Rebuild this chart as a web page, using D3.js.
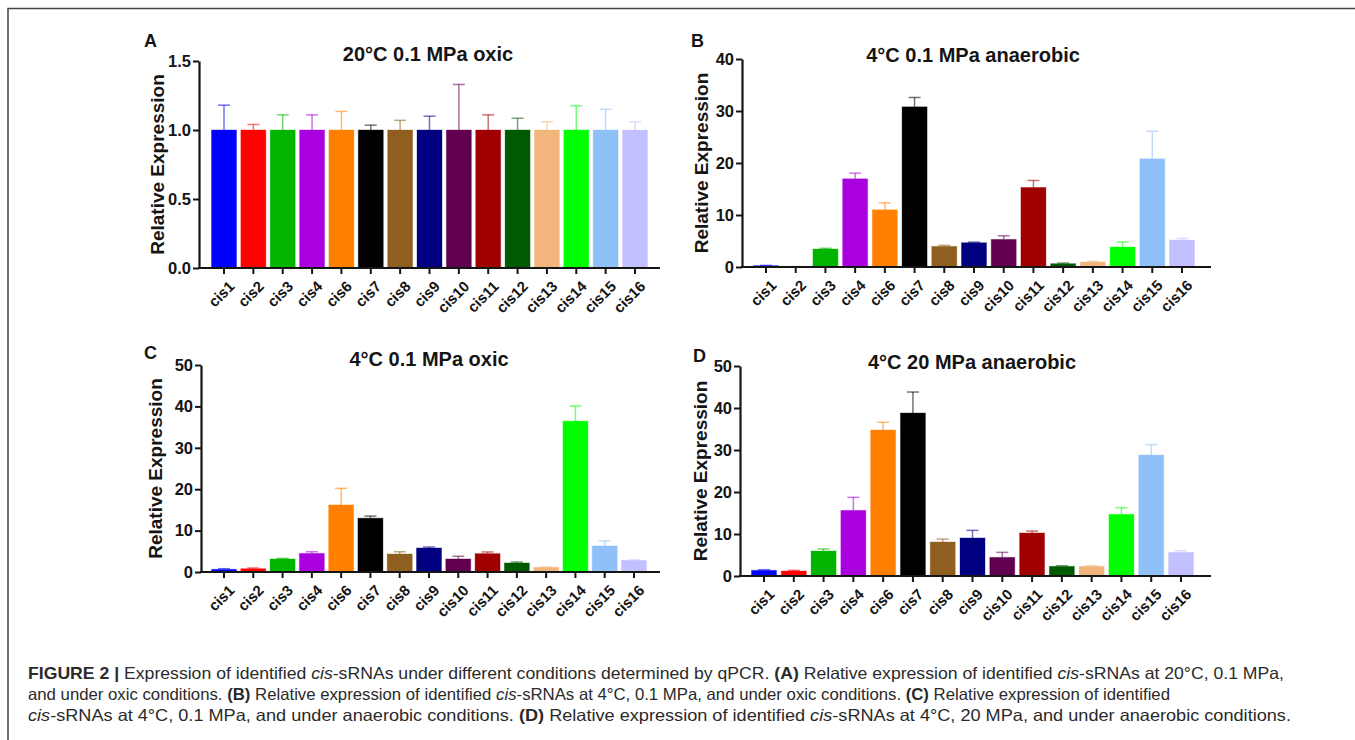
<!DOCTYPE html>
<html>
<head>
<meta charset="utf-8">
<script src="https://cdn.jsdelivr.net/npm/d3@7"></script>
<style>
  body { margin: 0; background: #fff; }
  svg { display: block; }
</style>
</head>
<body>
<svg id="svg" width="1355" height="740"></svg>
<script>
// categories + colours
var genes = ["cis1","cis2","cis3","cis4","cis6","cis7","cis8","cis9","cis10","cis11","cis12","cis13","cis14","cis15","cis16"];
var colors = ["#0000ff","#ff0000","#00b400","#aa00e0","#ff8000","#000000","#8f5f1f","#000080",
              "#60004f","#a00000","#005a00","#f2b67d","#00ff00","#8fc0f7","#c2c0ff"];

// panel A : 20°C 0.1 MPa oxic
var oxic20 = [1,1,1,1,1,1,1,1,1,1,1,1,1,1,1];
var oxic20Err = [0.18,0.04,0.11,0.11,0.135,0.035,0.07,0.10,0.33,0.11,0.085,0.06,0.175,0.15,0.06];
// panel B : 4°C 0.1 MPa anaerobic
var anaer4 = [0.26,0.05,3.46,16.96,11.0,30.8,3.97,4.67,5.31,15.3,0.64,0.96,3.84,20.8,5.18];
var anaer4Err = [0.05,0.02,0.14,1.09,1.35,1.8,0.19,0.13,0.69,1.34,0.13,0.13,0.96,5.3,0.32];
// panel C : 4°C 0.1 MPa oxic
var oxic4 = [0.65,0.8,3.15,4.5,16.2,13.0,4.35,5.8,3.15,4.44,2.18,1.13,36.45,6.3,2.82];
var oxic4Err = [0.15,0.17,0.15,0.4,4.0,0.5,0.55,0.25,0.65,0.4,0.24,0.07,3.65,1.2,0.08];
// panel D : 4°C 20 MPa anaerobic
var anaer20 = [1.35,1.19,5.95,15.63,34.76,38.8,8.1,9.05,4.44,10.24,2.3,2.3,14.68,28.8,5.63];
var anaer20Err = [0.15,0.16,0.48,3.1,1.84,5.0,0.7,1.82,1.19,0.46,0.16,0.16,1.59,2.47,0.4];

var svg = d3.select("#svg");
var textColor = "#151515";
var fontFam = "'Liberation Sans', Arial, sans-serif";

// frame
svg.append("path")
    .attr("d", "M8,740 L8,8.5 L1355,8.5")
    .attr("fill", "none")
    .attr("stroke", "#444")
    .attr("stroke-width", 1.5);

var panels = [
  { letter: "A", title: "20°C 0.1 MPa oxic", vals: oxic20, errs: oxic20Err, max: 1.5, ticks: [0,0.5,1,1.5], fmt: ".1f",
    x0: 199, x1: 660, first: 224, last: 635, top: 61, bottom: 268, lx: 144, ly: 47, tx: 428, ty: 61, ax: 157 },
  { letter: "B", title: "4°C 0.1 MPa anaerobic", vals: anaer4, errs: anaer4Err, max: 40, ticks: [0,10,20,30,40], fmt: "d",
    x0: 742, x1: 1211, first: 766, last: 1182, top: 59, bottom: 267, lx: 691, ly: 47, tx: 973, ty: 62, ax: 701 },
  { letter: "C", title: "4°C 0.1 MPa oxic", vals: oxic4, errs: oxic4Err, max: 50, ticks: [0,10,20,30,40,50], fmt: "d",
    x0: 201, x1: 660, first: 224, last: 634, top: 365, bottom: 572, lx: 144, ly: 359, tx: 429, ty: 366, ax: 155 },
  { letter: "D", title: "4°C 20 MPa anaerobic", vals: anaer20, errs: anaer20Err, max: 50, ticks: [0,10,20,30,40,50], fmt: "d",
    x0: 740, x1: 1211, first: 764, last: 1181, top: 366, bottom: 576, lx: 693, ly: 362, tx: 972, ty: 369, ax: 700 }
];

panels.forEach(function(p) {
  var g = svg.append("g");
  var x = d3.scalePoint().domain(genes).range([p.first, p.last]);
  var y = d3.scaleLinear().domain([0, p.max]).range([p.bottom, p.top]);
  var bw = 25;

  // error bars (drawn first so bars sit on top)
  var eb = g.selectAll(".err").data(genes).enter().append("g")
      .attr("stroke", function(d, i) { return colors[i]; })
      .attr("stroke-opacity", 0.55)
      .attr("stroke-width", 1.5);
  eb.append("line")
      .attr("x1", function(d) { return x(d); })
      .attr("x2", function(d) { return x(d); })
      .attr("y1", function(d, i) { return y(p.vals[i]); })
      .attr("y2", function(d, i) { return y(p.vals[i] + p.errs[i]); });
  eb.append("line")
      .attr("x1", function(d) { return x(d) - 6; })
      .attr("x2", function(d) { return x(d) + 6; })
      .attr("y1", function(d, i) { return y(p.vals[i] + p.errs[i]); })
      .attr("y2", function(d, i) { return y(p.vals[i] + p.errs[i]); });

  // bars
  g.selectAll(".bar").data(genes).enter().append("rect")
      .attr("x", function(d) { return x(d) - bw / 2; })
      .attr("width", bw)
      .attr("y", function(d, i) { return y(p.vals[i]); })
      .attr("height", function(d, i) { return p.bottom - y(p.vals[i]); })
      .attr("fill", function(d, i) { return colors[i]; })
      .attr("stroke", function(d, i) { return colors[i]; })
      .attr("stroke-opacity", 0.35)
      .attr("stroke-width", 1);

  // y axis
  var ya = g.append("g")
      .attr("transform", "translate(" + p.x0 + ",0)")
      .call(d3.axisLeft(y).tickValues(p.ticks).tickFormat(d3.format(p.fmt)).tickSize(6).tickSizeOuter(0));
  ya.select(".domain").attr("stroke", textColor).attr("stroke-width", 2.2);
  ya.selectAll(".tick line").attr("stroke", textColor).attr("stroke-width", 2);
  ya.selectAll(".tick text")
      .attr("x", -8)
      .attr("fill", textColor)
      .style("font", "bold 16.5px " + fontFam);

  // x axis
  g.append("line")
      .attr("x1", p.x0 - 1).attr("x2", p.x1)
      .attr("y1", p.bottom).attr("y2", p.bottom)
      .attr("stroke", textColor).attr("stroke-width", 2.2);
  g.selectAll(".xt").data(genes).enter().append("line")
      .attr("x1", function(d) { return x(d); })
      .attr("x2", function(d) { return x(d); })
      .attr("y1", p.bottom)
      .attr("y2", p.bottom + 6)
      .attr("stroke", textColor).attr("stroke-width", 2);
  g.selectAll(".xl").data(genes).enter().append("text")
      .attr("transform", function(d) { return "translate(" + (x(d) + 4) + "," + (p.bottom + 12) + ") rotate(-45)"; })
      .attr("text-anchor", "end")
      .attr("dy", "0.7em")
      .attr("fill", textColor)
      .style("font", "bold 15px " + fontFam)
      .text(function(d) { return d; });

  // y title
  g.append("text")
      .attr("transform", "translate(" + (p.ax + 7) + "," + ((p.top + p.bottom) / 2) + ") rotate(-90)")
      .attr("text-anchor", "middle")
      .attr("fill", textColor)
      .style("font", "bold 19px " + fontFam)
      .text("Relative Expression");

  // panel title + letter
  g.append("text")
      .attr("x", p.tx).attr("y", p.ty)
      .attr("text-anchor", "middle")
      .attr("fill", textColor)
      .style("font", "bold 20px " + fontFam)
      .text(p.title);
  g.append("text")
      .attr("x", p.lx).attr("y", p.ly)
      .attr("fill", textColor)
      .style("font", "bold 18px " + fontFam)
      .text(p.letter);
});

// caption
var capLines = [
  [["FIGURE 2 | ", "b"], ["Expression of identified ", ""], ["cis", "i"], ["-sRNAs under different conditions determined by qPCR. ", ""],
   ["(A)", "b"], [" Relative expression of identified ", ""], ["cis", "i"], ["-sRNAs at 20°C, 0.1 MPa,", ""]],
  [["and under oxic conditions. ", ""], ["(B)", "b"], [" Relative expression of identified ", ""], ["cis", "i"],
   ["-sRNAs at 4°C, 0.1 MPa, and under oxic conditions. ", ""], ["(C)", "b"], [" Relative expression of identified", ""]],
  [["cis", "i"], ["-sRNAs at 4°C, 0.1 MPa, and under anaerobic conditions. ", ""], ["(D)", "b"],
   [" Relative expression of identified ", ""], ["cis", "i"], ["-sRNAs at 4°C, 20 MPa, and under anaerobic conditions.", ""]]
];
var capWidths = [1256, 1142, 1263];

capLines.forEach(function(line, k) {
  var t = svg.append("text")
      .attr("x", 28)
      .attr("y", 679 + k * 21)
      .attr("fill", "#2a2a2a")
      .style("font", "16.5px " + fontFam);
  line.forEach(function(s) {
    t.append("tspan")
        .style("font-weight", s[1] == "b" ? "bold" : null)
        .style("font-style", s[1] == "i" ? "italic" : null)
        .text(s[0]);
  });
  t.attr("textLength", capWidths[k]).attr("lengthAdjust", "spacingAndGlyphs");
});
</script>
</body>
</html>
